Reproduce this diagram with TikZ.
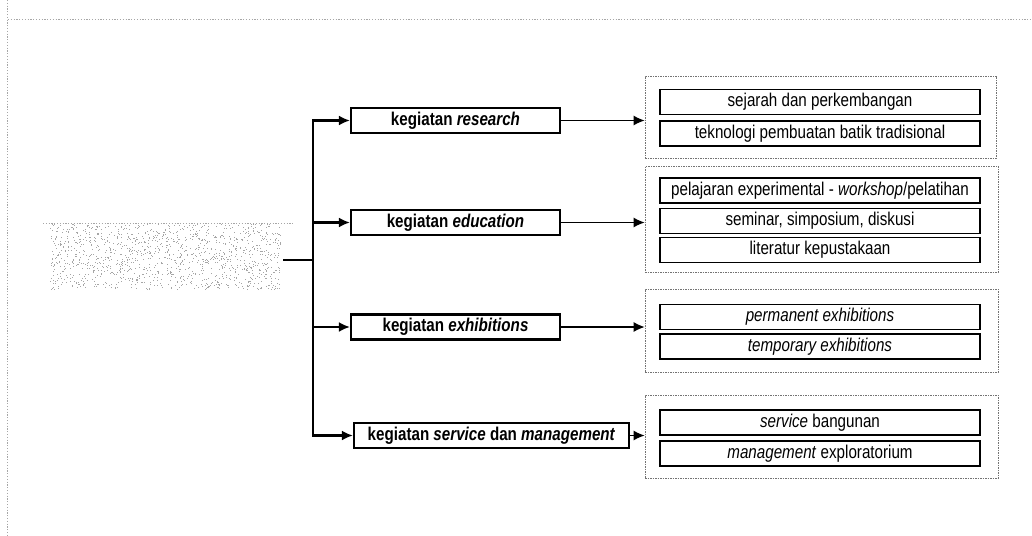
\documentclass[tikz,border=0pt]{standalone}
\usepackage{fontspec}
\setmainfont[FakeStretch=0.82]{Liberation Sans}
\usetikzlibrary{arrows.meta,positioning}
\tikzset{
  frame/.style={draw=gray!70, line width=0.6pt, dash pattern=on 1.2pt off 1.6pt},
  actbox/.style={draw, line width=2.2pt, minimum height=25, inner sep=0pt,
                 font=\fontsize{18.5}{18.5}\selectfont\bfseries},
  itembox/.style={draw, line width=1.9pt, minimum width=320, minimum height=25, inner sep=0pt,
                 font=\fontsize{18.5}{18.5}\selectfont},
  group/.style={draw=gray!90!black, line width=0.7pt, dash pattern=on 1.5pt off 1pt, inner sep=0pt},
  tip/.style={-{Latex[length=11pt,width=10pt]}},
  trunk/.style={line width=2.1pt, tip},
  link/.style={line width=1.3pt, tip},
}
\begin{document}
\begin{tikzpicture}[x=1pt,y=-1pt]
\useasboundingbox (0,0) rectangle (1032,535);
\fill[white] (0,0) rectangle (1032,535);

% page frame
\draw[frame] (8,19) -- (1032,19);
\draw[frame] (7,0) -- (7,535);

% source block (speckled)
\node (src) [minimum width=233, minimum height=67, inner sep=0pt] at (166.5,256.5) {};
\pgfmathsetseed{11}
\foreach \i in {1,...,1300}{
  \pgfmathsetmacro\px{50+231*rnd}
  \pgfmathsetmacro\py{224+65*rnd}
  \fill[gray!70] (\px,\py) rectangle ++(1,1);
}
\draw[frame] (43,223) -- (293,223);

% activities
\node (res) [actbox, minimum width=209] at (455.5,120.5) {kegiatan \textit{research}};
\node (edu) [actbox, minimum width=209] at (455.5,222.5) {kegiatan \textit{education}};
\node (exh) [actbox, minimum width=209] at (455.5,327) {kegiatan \textit{exhibitions}};
\node (svc) [actbox, minimum width=275] at (491.5,435.5) {kegiatan \textit{service} dan \textit{management}};

% groups of items
\node (g1) [group, minimum width=351, minimum height=82] at (820.5,117) {};
\node (g2) [group, minimum width=353, minimum height=106] at (821.5,219) {};
\node (g3) [group, minimum width=353, minimum height=83] at (821.5,330.5) {};
\node (g4) [group, minimum width=353, minimum height=83] at (821.5,436.5) {};

\node (a1) [itembox] at (820,102) {sejarah dan perkembangan};
\node (a2) [itembox] at (820,133.5) {teknologi pembuatan batik tradisional};

\node (b1) [itembox] at (820,190.5) {pelajaran experimental - \textit{workshop}/pelatihan};
\node (b2) [itembox] at (820,221) {seminar, simposium, diskusi};
\node (b3) [itembox] at (820,250) {literatur kepustakaan};

\node (c1) [itembox] at (820,317) {\textit{permanent exhibitions}};
\node (c2) [itembox] at (820,346.5) {\textit{temporary exhibitions}};

\node (d1) [itembox] at (820,422.5) {\textit{service} bangunan};
\node (d2) [itembox] at (820,453.5) {\textit{management} exploratorium};

% branching connectors
\coordinate (jn) at (313,260);
\draw[line width=2.1pt] (src.east |- jn) -- (jn);
\draw[trunk] (jn) |- (res.west);
\draw[trunk] (jn) |- (edu.west);
\draw[trunk] (jn) |- (exh.west);
\draw[trunk] (jn) |- (svc.west);

\draw[link] (res.east) -- (res.east -| g1.west);
\draw[link] (edu.east) -- (edu.east -| g2.west);
\draw[link] (exh.east) -- (exh.east -| g3.west);
\draw[link] (svc.east) -- (svc.east -| g4.west);
\end{tikzpicture}
\end{document}
